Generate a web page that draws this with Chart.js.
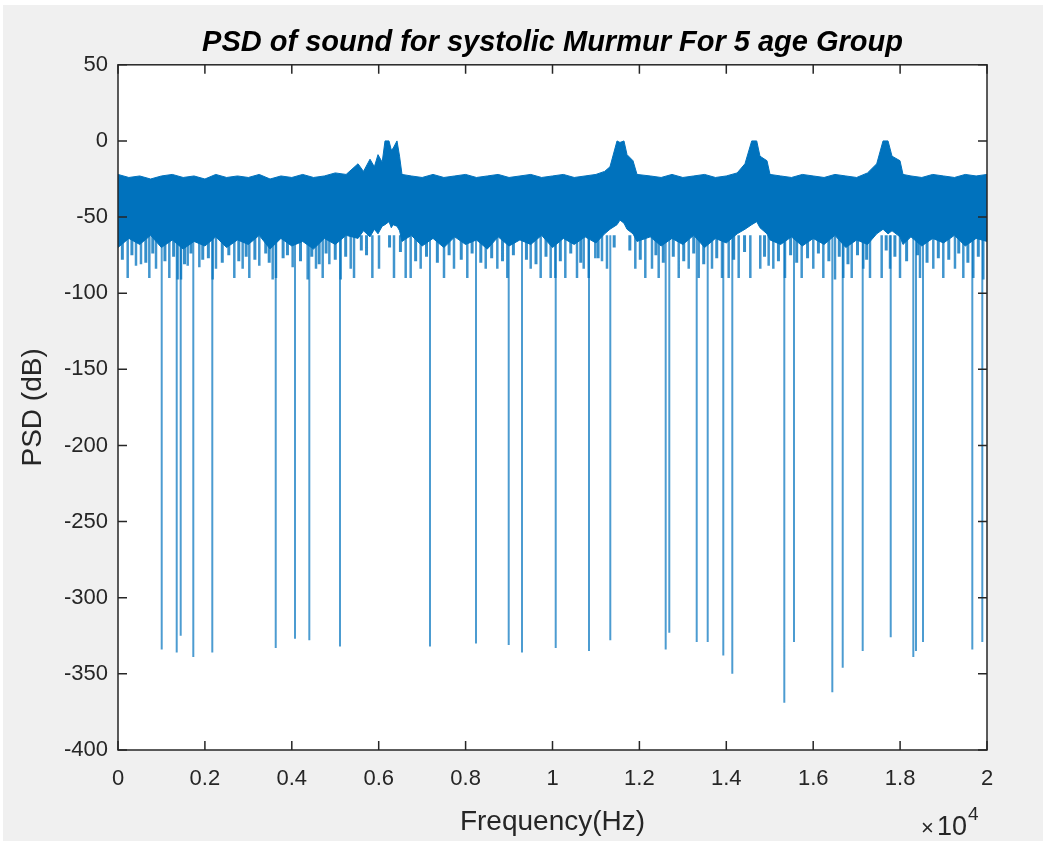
<!DOCTYPE html>
<html>
<head>
<meta charset="utf-8">
<script src="https://cdn.jsdelivr.net/npm/chart.js@4"></script>
<style>
  html, body { margin: 0; padding: 0; background: #fff; }
</style>
</head>
<body>
<canvas id="psd" width="1043" height="841"></canvas>
<script>
// envelope of the dense noise band (frequency in Hz, level in dB)
const bandHz = [0, 250, 500, 750, 1000, 1250, 1500, 1750, 2000, 2250, 2500, 2750, 3000, 3250, 3500, 3750,
  4000, 4250, 4500, 4750, 5000, 5250, 5524, 5650, 5800, 5900, 5984, 6080, 6145, 6237, 6290, 6329, 6421, 6480,
  6536, 6750, 7000, 7250, 7500, 7750, 8000, 8250, 8500, 8750, 9000, 9250, 9500, 9750, 10000, 10250, 10500,
  10750, 11000, 11200, 11323, 11485, 11553, 11645, 11715, 11853, 11945, 12250, 12500, 12750, 13000, 13250,
  13500, 13750, 14000, 14250, 14430, 14585, 14700, 14775, 14936, 15006, 15250, 15500, 15750, 16000, 16250,
  16500, 16750, 17000, 17250, 17462, 17607, 17722, 17814, 17998, 18067, 18250, 18500, 18750, 19000, 19250,
  19500, 19750, 20000];
const bandTop = [-22, -24, -23, -25, -23, -22, -24, -23, -25, -22, -24, -23, -24, -22, -25, -23,
  -24, -22, -24, -23, -21, -22, -15, -20, -12, -17, -9, -14, 0, 0, -6, -5, 0, -10,
  -22, -23, -24, -22, -24, -23, -22, -24, -23, -22, -24, -23, -22, -24, -23, -22, -24,
  -23, -22, -20, -17, 0, -1, 0, -9, -13, -22, -23, -24, -22, -24, -23,
  -22, -24, -23, -21, -15, 0, 0, -10, -13, -22, -23, -24, -22, -23, -24,
  -22, -23, -24, -21, -15, 0, 0, -10, -13, -22, -23, -24, -22, -23, -24,
  -22, -23, -22];
const bandBottom = [-70, -64, -68, -62, -70, -65, -71, -66, -69, -63, -70, -65, -68, -62, -71, -64,
  -69, -66, -71, -64, -68, -62, -64, -59, -63, -58, -61, -56, -55, -53, -57, -55, -56, -59,
  -66, -62, -69, -64, -70, -63, -68, -65, -71, -63, -69, -65, -68, -62, -70, -64, -68,
  -63, -67, -61, -58, -55, -52, -54, -58, -61, -66, -63, -69, -64, -68, -62,
  -70, -64, -67, -61, -58, -55, -53, -57, -61, -65, -68, -63, -69, -64, -68,
  -62, -70, -65, -68, -61, -58, -61, -59, -63, -68, -63, -69, -64, -67, -62,
  -69, -64, -66];

// thin lines hanging below the band (deeper ones)
const fringeHz = [223, 414, 529, 721, 875, 1181, 1373, 1450, 1604, 1872, 2179, 2255, 2677, 2869, 3022, 3252,
  3560, 3636, 4020, 4365, 4557, 4711, 4864, 5125, 5356, 5432, 5854, 6007, 6352, 6621, 6736, 6966, 7503,
  7733, 8039, 8463, 8730, 8960, 9498, 9728, 9958, 10065, 10295, 10564, 10718, 10833, 10985, 11139, 11254,
  11906, 12136, 12290, 12444, 12905, 13135, 13365, 13671, 13901, 14055, 14285, 14553, 14782, 14975, 15082,
  15351, 15735, 16002, 16233, 16502, 16693, 16886, 17153, 17307, 17576, 17768, 17998, 18458, 18764, 18994,
  19263, 19455, 19685, 19915];
const fringeDb = [-90, -82, -81, -90, -84, -90, -91, -91, -82, -83, -91, -84, -90, -84, -90, -82,
  -91, -90, -83, -91, -84, -90, -81, -91, -84, -90, -90, -84, -90, -90, -90, -84, -90,
  -84, -90, -84, -84, -90, -84, -90, -90, -90, -90, -90, -84, -90, -77, -79, -84,
  -84, -90, -84, -90, -90, -84, -90, -84, -90, -90, -90, -90, -84, -82, -84,
  -90, -90, -84, -90, -91, -90, -90, -84, -90, -90, -84, -90, -90, -84, -90,
  -84, -90, -90, -91];

// shorter lines hanging below the band
const stubHz = [100, 320, 640, 800, 1080, 1280, 1530, 1680, 1950, 2080, 2400, 2550, 2780, 2950, 3150, 3400,
  3480, 3800, 3900, 4200, 4460, 4630, 4790, 5000, 5240, 5600, 5720, 6250, 6500, 6850, 7100, 7350, 7620,
  7900, 8150, 8350, 8600, 8850, 9100, 9400, 9620, 9850, 10180, 10420, 10650, 11050, 11420, 11780, 12020,
  12380, 12550, 12780, 13020, 13250, 13480, 13780, 14170, 14420, 14880, 15200, 15480, 15620, 15870, 16120,
  16360, 16600, 16800, 17020, 17230, 17680, 17880, 18150, 18400, 18620, 18880, 19120, 19350, 19560, 19800];
const stubDb = [-78, -75, -80, -74, -79, -76, -81, -74, -78, -77, -80, -75, -79, -76, -78, -74,
  -80, -77, -75, -79, -76, -81, -74, -78, -76, -72, -75, -70, -73, -79, -76, -80, -75,
  -78, -74, -80, -77, -79, -75, -78, -81, -76, -79, -74, -80, -77, -70, -72, -78,
  -75, -80, -76, -79, -74, -81, -77, -78, -73, -76, -79, -75, -80, -77, -74,
  -79, -76, -81, -75, -78, -72, -76, -79, -75, -80, -77, -78, -74, -80, -76];

// deep notches
const notchHz = [1006, 1351, 1443, 1733, 2170, 3630, 4074, 4403, 5110, 7181, 8239, 8992, 9298, 10074,
  10840, 11330, 12605, 12688, 13319, 13572, 13931, 14138, 15335, 15558, 16440, 16679, 17139, 17784,
  18304, 18366, 18527, 19662, 19892];
const notchDb = [-334, -336, -325, -339, -336, -333, -327, -328, -332, -332, -330, -331, -336, -333,
  -335, -328, -334, -323, -329, -329, -338, -350, -369, -329, -362, -346, -335, -326,
  -339, -335, -329, -334, -329];

const xTickLabels = ['0', '0.2', '0.4', '0.6', '0.8', '1', '1.2', '1.4', '1.6', '1.8', '2'];

const blue = '#0072BD';
const FONT = '"Liberation Sans", Arial, Helvetica, sans-serif';

function pairs(xs, ys) {
  return xs.map((x, i) => ({ x: x, y: ys[i] }));
}
function drops(xs, ys, from) {
  const out = [];
  xs.forEach((x, i) => {
    out.push({ x: x, y: from }, { x: x, y: ys[i] }, { x: x, y: null });
  });
  return out;
}

const framePlugin = {
  id: 'frame',
  beforeDraw(chart) {
    const { ctx, chartArea: a } = chart;
    ctx.save();
    ctx.fillStyle = '#fff';
    ctx.fillRect(0, 0, chart.width, chart.height);
    ctx.fillStyle = '#f0f0f0';
    ctx.fillRect(3, 5, chart.width - 3, chart.height - 5);
    ctx.fillStyle = '#fff';
    ctx.fillRect(a.left, a.top, a.right - a.left, a.bottom - a.top);
    ctx.restore();
  },
  afterDraw(chart) {
    const { ctx, chartArea: a, scales } = chart;
    const t = 9;
    ctx.save();
    ctx.strokeStyle = '#262626';
    ctx.lineWidth = 1.5;
    ctx.strokeRect(a.left, a.top, a.right - a.left, a.bottom - a.top);
    ctx.beginPath();
    scales.x.ticks.forEach(tk => {
      const px = scales.x.getPixelForValue(tk.value);
      ctx.moveTo(px, a.bottom); ctx.lineTo(px, a.bottom - t);
      ctx.moveTo(px, a.top); ctx.lineTo(px, a.top + t);
    });
    scales.y.ticks.forEach(tk => {
      const py = scales.y.getPixelForValue(tk.value);
      ctx.moveTo(a.left, py); ctx.lineTo(a.left + t, py);
      ctx.moveTo(a.right, py); ctx.lineTo(a.right - t, py);
    });
    ctx.stroke();
    // exponent label
    ctx.fillStyle = '#262626';
    ctx.textBaseline = 'alphabetic';
    ctx.font = '22px ' + FONT;
    ctx.fillText('\u00d7', 921, 835);
    ctx.font = '27px ' + FONT;
    ctx.fillText('10', 937, 835);
    ctx.font = '19px ' + FONT;
    ctx.fillText('4', 968, 820);
    ctx.restore();
  }
};

new Chart(document.getElementById('psd'), {
  type: 'line',
  data: {
    datasets: [
      {
        data: pairs(bandHz, bandTop),
        borderColor: blue,
        backgroundColor: blue,
        borderWidth: 1,
        fill: '+1'
      },
      {
        data: pairs(bandHz, bandBottom),
        borderColor: blue,
        borderWidth: 1,
        fill: false
      },
      {
        data: drops(fringeHz, fringeDb, -62),
        borderColor: 'rgba(0,114,189,0.75)',
        borderWidth: 2.5,
        fill: false,
        spanGaps: false
      },
      {
        data: drops(stubHz, stubDb, -62),
        borderColor: 'rgba(0,114,189,0.8)',
        borderWidth: 3,
        fill: false,
        spanGaps: false
      },
      {
        data: drops(notchHz, notchDb, -62),
        borderColor: 'rgba(0,114,189,0.7)',
        borderWidth: 2,
        fill: false,
        spanGaps: false
      }
    ]
  },
  options: {
    responsive: false,
    animation: false,
    events: [],
    elements: { point: { radius: 0 }, line: { tension: 0 } },
    layout: { padding: { left: 0, right: 56, top: 0, bottom: 0 } },
    plugins: {
      legend: { display: false },
      tooltip: { enabled: false },
      title: {
        display: true,
        text: 'PSD of sound for systolic Murmur For 5 age Group',
        fullSize: false,
        color: '#000',
        font: { family: FONT, size: 29, weight: 'bold', style: 'italic' },
        padding: { top: 26, bottom: 4 }
      }
    },
    scales: {
      x: {
        type: 'linear',
        min: 0,
        max: 20000,
        grid: { display: false, drawTicks: false },
        border: { display: false },
        ticks: {
          stepSize: 2000,
          padding: 16,
          color: '#262626',
          font: { family: FONT, size: 22 },
          maxRotation: 0,
          callback: (v, i) => xTickLabels[i]
        },
        title: {
          display: true,
          text: 'Frequency(Hz)',
          color: '#262626',
          font: { family: FONT, size: 28 },
          padding: 2
        },
        afterFit: s => { s.height = 91; }
      },
      y: {
        min: -400,
        max: 50,
        grid: { display: false, drawTicks: false },
        border: { display: false },
        ticks: {
          stepSize: 50,
          padding: 10,
          color: '#262626',
          font: { family: FONT, size: 22 }
        },
        title: {
          display: true,
          text: 'PSD (dB)',
          color: '#262626',
          font: { family: FONT, size: 28 },
          padding: 16
        },
        afterFit: s => { s.width = 118; }
      }
    }
  },
  plugins: [framePlugin]
});
</script>
</body>
</html>
